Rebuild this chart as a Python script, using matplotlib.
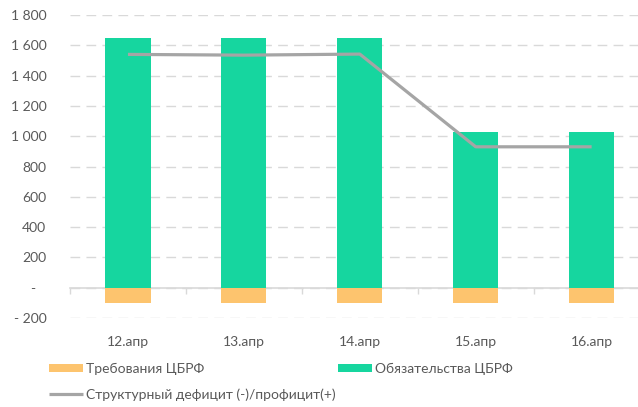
import matplotlib
matplotlib.use("Agg")
from matplotlib import pyplot as plt
import numpy as np

# данные по дням
dates = ["12.апр", "13.апр", "14.апр", "15.апр", "16.апр"]
trebovaniya = [-103, -103, -103, -103, -103]
obyazatelstva = [1645, 1645, 1645, 1030, 1030]
deficit = [1540, 1535, 1542, 930, 930]

yticks = [-200, 0, 200, 400, 600, 800, 1000, 1200, 1400, 1600, 1800]

c_orange = "#FDC46E"
c_green = "#16D69F"
c_line = "#A5A5A5"
c_grid = "#D9D9D9"
c_text = "#595959"

plt.rcParams["font.family"] = ["Lato", "DejaVu Sans"]
plt.rcParams["font.size"] = 10

def fmt(v):
    if v == 0:
        return "-   "
    s = "{:,}".format(abs(int(v))).replace(",", " ")
    return "- " + s if v < 0 else s

W, H = 638, 407
fig = plt.figure(figsize=(W / 100, H / 100), dpi=100)
ax = fig.add_axes([70 / W, (H - 318) / H, (638 - 70) / W, (318 - 15) / H])

x = np.arange(len(dates))
b1 = ax.bar(x, trebovaniya, width=0.39, color=c_orange, zorder=2)
b2 = ax.bar(x, obyazatelstva, width=0.39, color=c_green, zorder=2)
l1, = ax.plot(x, deficit, color=c_line, lw=2.3, zorder=3, solid_capstyle="butt")

ax.set_xlim(-0.5, 4.4)
ax.set_ylim(-200, 1800)
ax.set_yticks(yticks)
ax.set_yticklabels([fmt(v) for v in yticks])
ax.set_xticks(x)
ax.set_xticklabels(dates)
ax.tick_params(axis="both", length=0, colors=c_text, labelsize=10)
ax.tick_params(axis="y", pad=17)
ax.tick_params(axis="x", pad=13)

ax.grid(axis="y", color=c_grid, lw=1, linestyle=(0, (7, 4.5)), zorder=0)
for s in ax.spines.values():
    s.set_visible(False)

# ось по нулю с засечками между категориями
zero_pos = (0 - yticks[0]) / (yticks[-1] - yticks[0])
sec = ax.secondary_xaxis(zero_pos)
sec.set_xticks(np.arange(len(dates) + 1) - 0.5)
sec.tick_params(length=4, color=c_grid, width=1, labelbottom=False, labeltop=False)
sec.spines["bottom"].set_color(c_grid)
sec.spines["bottom"].set_linewidth(1.2)
for k in ["top", "left", "right"]:
    if k in sec.spines:
        sec.spines[k].set_visible(False)

leg_kw = dict(frameon=False, fontsize=10, labelcolor=c_text, handlelength=2.45,
              handleheight=0.5, handletextpad=0.2, borderpad=0, borderaxespad=0,
              labelspacing=0.95)
leg1 = fig.legend([b1, l1], ["Требования ЦБРФ", "Структурный дефицит (-)/профицит(+)"],
                  loc="upper left", bbox_to_anchor=(49 / W, (H - 363) / H), **leg_kw)
leg2 = fig.legend([b2], ["Обязательства ЦБРФ"],
                  loc="upper left", bbox_to_anchor=(338 / W, (H - 363) / H), **leg_kw)

fig.savefig("out.png", dpi=100)
